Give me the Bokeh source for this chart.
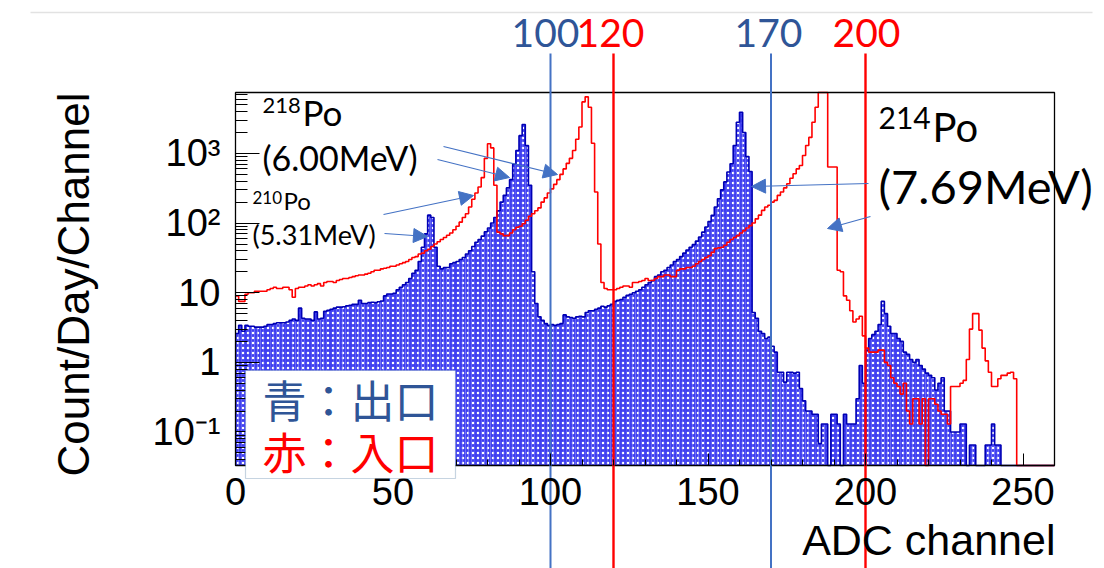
from math import log10
from bokeh.plotting import figure
from bokeh.models import (Range1d, FixedTicker, CustomJSTickFormatter, Label, Arrow,
                          NormalHead, BoxAnnotation, ColumnDataSource)
from bokeh.embed import file_html
from bokeh.resources import INLINE

# counts per day per channel, one value per ADC channel 0..259
outlet_counts = [  # blue, 出口
    2.6, 3.4, 2.8, 3.4, 3.3, 3.3, 3.2, 3.2, 3.2, 3.3,
    3.5, 3.5, 3.6, 3.7, 3.7, 3.7, 3.8, 4.0, 4.2, 4.0,
    6.0, 4.3, 4.2, 4.2, 4.0, 5.3, 4.2, 4.3, 5.4, 5.6,
    5.8, 6.0, 6.2, 6.2, 6.3, 6.5, 6.6, 6.8, 6.8, 7.8,
    7.0, 7.0, 7.2, 7.3, 7.2, 7.4, 7.6, 9.0, 9.6, 9.6,
    9.8, 11, 12, 13, 14, 16, 19, 21, 28, 45,
    70, 130, 120, 45, 24, 22, 23, 23, 26, 27,
    28, 30, 32, 36, 40, 46, 53, 58, 65, 75,
    85, 100, 120, 150, 200, 250, 320, 420, 700, 1100,
    1800, 2600, 1300, 350, 20, 7, 4.5, 4.0, 3.6, 3.4,
    3.5, 3.4, 3.5, 3.6, 4.8, 4.5, 4.4, 4.3, 4.5, 4.6,
    4.5, 5.2, 5.5, 5.5, 5.8, 6.0, 6.4, 6.2, 6.5, 6.8,
    7.5, 7.8, 8.0, 8.6, 9.2, 9.5, 10, 10.5, 11, 12,
    13, 14, 15, 17, 18, 20, 21, 23, 25, 28,
    30, 33, 37, 41, 45, 49, 55, 63, 74, 88,
    105, 129, 170, 224, 300, 390, 540, 710, 1300, 2800,
    3900, 2000, 900, 550, 5.2, 4.3, 2.8, 2.6, 2.2, 2.3,
    1.7, 1.4, 0.72, 0.72, 0.52, 0.72, 0.72, 0.7, 0.72, 0.42,
    0.28, 0.2, 0.2, 0.18, 0.18, 0.068, 0.13, 0.13, 0, 0.18,
    0.18, 0.13, 0, 0.18, 0.13, 0.13, 0.13, 0.3, 0.9, 0.5,
    1.5, 2.2, 2.5, 2.8, 3.5, 7.5, 5.0, 3.3, 2.6, 2.6,
    2.2, 2.0, 1.4, 1.3, 1.1, 1.0, 1.1, 0.9, 0.8, 0.7,
    0.65, 0.6, 0.4, 0.5, 0.6, 0.2, 0.2, 0.1, 0.1, 0.1,
    0.13, 0.13, 0, 0.065, 0.065, 0, 0, 0, 0.065, 0.065,
    0.13, 0.065, 0.065, 0, 0, 0, 0, 0, 0, 0,
    0, 0, 0, 0, 0, 0, 0, 0, 0, 0,
]
inlet_counts = [  # red, 入口
    9, 7.5, 7.5, 9.5, 10, 10, 10.5, 10.5, 10.5, 10.5,
    11, 11.5, 12, 11.5, 11.5, 12, 12, 11, 8.6, 11.5,
    12, 12, 12.5, 13, 12.5, 13, 13.5, 12.5, 14, 14.5,
    14.5, 14, 15, 15.5, 16, 16, 16.5, 17, 17.5, 18,
    18, 18.5, 19, 20, 21, 21, 22, 22.5, 23, 24,
    24, 25, 26, 27, 28, 30, 32, 33, 36, 37,
    40, 42, 46, 50, 54, 58, 62, 67, 72, 80,
    90, 103, 120, 136, 170, 220, 270, 330, 450, 850,
    1380, 1200, 350, 74, 70, 66, 66, 72, 80, 87,
    90, 98, 110, 125, 136, 150, 165, 200, 230, 270,
    310, 360, 420, 500, 600, 720, 850, 1100, 1600, 2400,
    5500, 6500, 4600, 1400, 280, 50, 14, 11.5, 11, 11,
    11, 11.5, 12, 12.5, 12.5, 12, 14, 14, 14.5, 15,
    16, 15, 15, 16, 17, 17, 18, 18, 17, 17,
    21, 22, 22, 23, 23, 24, 26, 28, 30, 32,
    34, 38, 43, 44, 45, 48, 53, 58, 62, 66,
    72, 78, 85, 92, 100, 115, 130, 152, 170, 180,
    200, 212, 250, 280, 320, 367, 440, 510, 600, 670,
    935, 1300, 1700, 2800, 4600, 9000, 9000, 9000, 640, 640,
    640, 21, 20, 9, 7.8, 5.5, 3.8, 4.2, 4.6, 2.4,
    1.6, 1.4, 1.4, 1.4, 1.5, 1.5, 1.0, 0.9, 0.6, 0.5,
    0.45, 0.35, 0.5, 0.2, 0.13, 0.3, 0.3, 0.13, 0.3, 0,
    0.3, 0.3, 0.25, 0.2, 0.18, 0.18, 0.13, 0.45, 0.45, 0.45,
    0.5, 0.55, 1.1, 3.0, 5.0, 5.0, 2.9, 1.6, 1.05, 0.72,
    0.45, 0.45, 0.58, 0.65, 0.65, 0.7, 0.72, 0.58, 0, 0,
    0, 0, 0, 0, 0, 0, 0, 0, 0, 0,
]
channels = list(range(len(outlet_counts)))

cut_channels = [100, 120, 170, 200]
cut_labels = ["100", "120", "170", "200"]

y_major = [0.1, 1, 10, 100, 1000]
x_major = [0, 50, 100, 150, 200, 250]

BLUE_LINE = "#4472c4"
BLUE_TEXT = "#2f5597"
RED = "#ff0000"

# histogram box: data limits and where it sits on the canvas (pixels)
X_LO, X_HI = 0, 260
Y_LO, Y_HI = 0.033, 7500
FL, FT, FR, FB = 235, 92, 1054, 465
W, H = 1104, 568

X_PER_PX = (X_HI - X_LO) / (FR - FL)
DEC_PER_PX = (log10(Y_HI) - log10(Y_LO)) / (FB - FT)


def dx(px):
    return X_LO + (px - FL) * X_PER_PX


def dy(py):
    return 10 ** (log10(Y_HI) - (py - FT) * DEC_PER_PX)


# the plot frame covers the whole canvas and both axes sit at fixed data locations,
# so nothing outside the histogram box (cut lines, titles, labels) gets clipped
p = figure(width=W, height=H, y_axis_type="log",
           x_range=Range1d(dx(0), dx(W)), y_range=Range1d(dy(H), dy(0)),
           output_backend="svg", toolbar_location=None,
           min_border_left=0, min_border_top=0, min_border_right=0, min_border_bottom=0)
p.xgrid.visible = False
p.ygrid.visible = False
p.outline_line_color = None
p.background_fill_color = "white"
p.border_fill_color = "white"

# faint border line of the slide above the chart
p.segment(x0=[dx(30)], x1=[dx(1092)], y0=[dy(12)], y1=[dy(12)],
          line_color="#e2e2e2", line_width=1.5)

# blue histogram: hatched boxes plus a step outline
blue_src = ColumnDataSource(dict(
    left=channels, right=[c + 1 for c in channels],
    top=[max(v, Y_LO) for v in outlet_counts],
    bottom=[Y_LO] * len(channels)))
p.quad(left="left", right="right", top="top", bottom="bottom", source=blue_src,
       fill_color="#4040f0", line_color=None,
       hatch_pattern="dot", hatch_color="white", hatch_scale=5, hatch_weight=2)

edges = channels + [channels[-1] + 1]
blue_y = [min(max(v, Y_LO), Y_HI) for v in outlet_counts]
red_y = [min(max(v, Y_LO), Y_HI) for v in inlet_counts]
p.step(edges, blue_y + [Y_LO], mode="after", line_color="#0000b4", line_width=1.6)
p.step(edges, red_y + [Y_LO], mode="after", line_color=RED, line_width=1.6)

# histogram frame
p.quad(left=X_LO, right=X_HI, bottom=Y_LO, top=Y_HI, fill_color=None,
       line_color="black", line_width=1.3)

# axes, ROOT style: ticks pointing inside the box
p.xaxis.fixed_location = Y_LO
p.yaxis.fixed_location = X_LO
p.xaxis.ticker = FixedTicker(ticks=x_major, minor_ticks=list(range(X_LO, X_HI + 1, 10)))
y_minor = [k * 10 ** e for e in range(-2, 4) for k in range(2, 10)
           if Y_LO <= k * 10 ** e <= Y_HI]
p.yaxis.ticker = FixedTicker(ticks=y_major, minor_ticks=y_minor)
p.yaxis.formatter = CustomJSTickFormatter(code="""
    const e = Math.round(Math.log10(tick));
    if (e == 0) return "1";
    if (e == 1) return "10";
    const sup = {"-1": "\u207b\u00b9", "2": "\u00b2", "3": "\u00b3"};
    return "10" + sup[String(e)];
""")
for ax in (p.xaxis[0], p.yaxis[0]):
    ax.axis_line_color = None
    ax.major_tick_out = 0
    ax.minor_tick_out = 0
    ax.major_tick_line_color = "black"
    ax.minor_tick_line_color = "black"
    ax.major_label_text_font = "Liberation Sans"
    ax.major_label_text_color = "black"
p.xaxis.major_label_text_font_size = "38px"
p.yaxis.major_label_text_font_size = "38px"
p.xaxis.major_tick_in = 12
p.xaxis.minor_tick_in = 6
p.xaxis.major_label_standoff = 12
p.yaxis.major_tick_in = 24
p.yaxis.minor_tick_in = 12
p.yaxis.major_label_standoff = 15
p.yaxis.axis_label = "Count/Day/Channel"
p.yaxis.axis_label_text_font = "Liberation Sans"
p.yaxis.axis_label_text_font_size = "44px"
p.yaxis.axis_label_text_font_style = "normal"
p.yaxis.axis_label_text_color = "black"
p.yaxis.axis_label_standoff = 52


def text(px, py, s, size, color="black", font="Lato", align="left"):
    # (px, py): left/centre edge and vertical middle of the text on the canvas
    p.add_layout(Label(x=dx(px), y=dy(py), text=s, text_font=font,
                       text_font_size=f"{size}px", text_color=color,
                       text_align=align, text_baseline="middle"))


text(1055, 539, "ADC channel", 43, font="Liberation Sans", align="right")

# cut lines at the chosen channels, running past the histogram box
cut_colors = [BLUE_LINE, RED, BLUE_LINE, RED]
cut_text_colors = [BLUE_TEXT, RED, BLUE_TEXT, RED]
label_x = [545, 610, 768, 866]
p.segment(x0=cut_channels, x1=cut_channels, y0=[dy(53)] * 4, y1=[dy(H)] * 4,
          line_color=cut_colors, line_width=[2, 2.4, 2, 2.4])
for lab, col, lx in zip(cut_labels, cut_text_colors, label_x):
    text(lx, 32, lab, 39, color=col, align="center")

# legend box
p.add_layout(BoxAnnotation(left=dx(245), right=dx(455), top=dy(370), bottom=dy(478),
                           fill_color="white", fill_alpha=1,
                           line_color="#41719c", line_width=1.2))
text(350, 398, "青：出口", 44, color=BLUE_TEXT, font="Noto Sans CJK JP", align="center")
text(350, 450, "赤：入口", 44, color=RED, font="Noto Sans CJK JP", align="center")

# peak annotations
text(262, 105, "218", 22)
text(302, 111, "Po", 35)
text(262, 157, "(6.00MeV)", 34)
text(252, 197, "210", 17)
text(283, 200, "Po", 24)
text(252, 234, "(5.31MeV)", 27)
text(878, 117, "214", 30)
text(932, 126, "Po", 40)
text(878, 185, "(7.69MeV)", 47)

arrows = [((443, 146), (557, 174)), ((437, 159), (509, 177)),
          ((383, 214), (473, 195)), ((384, 233), (427, 236)),
          ((868, 183), (751, 186)), ((870, 216), (827, 228))]
for (x0, y0), (x1, y1) in arrows:
    p.add_layout(Arrow(end=NormalHead(size=14, fill_color=BLUE_LINE, line_color=BLUE_LINE),
                       x_start=dx(x0), y_start=dy(y0), x_end=dx(x1), y_end=dy(y1),
                       line_color=BLUE_LINE, line_width=1.2))

open("out.html", "w").write(file_html(p, INLINE))
